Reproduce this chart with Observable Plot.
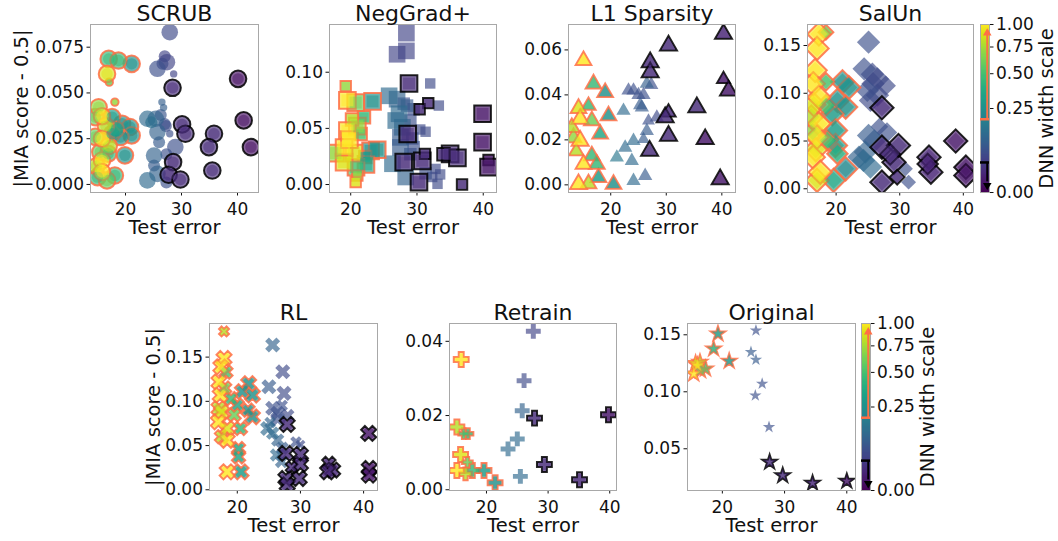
<!DOCTYPE html>
<html>
<head>
<meta charset="utf-8">
<script src="https://cdn.jsdelivr.net/npm/d3@7"></script>
<script src="https://cdn.jsdelivr.net/npm/@observablehq/plot@0.6"></script>
<style>
  html, body { margin: 0; padding: 0; background: #fff; }
  #chart { position: relative; width: 1058px; height: 541px; overflow: hidden; font-family: "DejaVu Sans", sans-serif; }
  #chart svg text { font-family: "DejaVu Sans", sans-serif; }
  .cell { position: absolute; }
</style>
</head>
<body>
<div id="chart"></div>
<script>
// Each point: [test error, |MIA score - 0.5|, DNN width scale, model size group (1 = small ... 3 = large)]
const scrub = [
  [28.4,0.0528,0.015,3],[30.1,0.0328,0.015,3],[30.7,0.0277,0.015,3],[35.8,0.0277,0.015,3],[34.9,0.0204,0.015,3],
  [35.5,0.0076,0.015,3],[28.5,0.0122,0.015,3],[27.7,0.0053,0.015,3],[29.8,0.0027,0.015,3],
  [40.1,0.0577,0.002,3],[41.1,0.0350,0.002,3],[42.4,0.0204,0.002,3],
  [27.9,0.0832,0.05,3],[27.0,0.0700,0.04,2],[27.4,0.0668,0.04,3],[25.7,0.0632,0.06,3],[28.6,0.0604,0.04,1],
  [26.6,0.0660,0.05,2],[26.5,0.0450,0.09,1],[26.8,0.0420,0.09,1],[23.9,0.0359,0.12,3],[25.4,0.0359,0.10,3],
  [26.3,0.0380,0.07,2],[25.7,0.0286,0.10,3],[27.0,0.0330,0.06,2],[27.9,0.0277,0.06,1],[28.9,0.0204,0.06,3],
  [25.1,0.0158,0.10,3],[27.3,0.0165,0.06,2],[23.9,0.0022,0.12,3],[25.7,0.0058,0.10,3],[25.1,0.0104,0.08,2],
  [27.3,0.0010,0.06,2],[27.2,0.0320,0.05,2],[24.6,0.0340,0.14,2],[26.0,0.0230,0.08,2],
  [17.0,0.0686,0.45,3],[18.75,0.0677,0.45,3],[21.1,0.0659,0.25,3],[16.7,0.0604,0.9,3],[17.1,0.0559,0.6,1],
  [18.1,0.0450,0.7,1],[15.2,0.0422,0.7,3],[15.8,0.0373,1.0,3],[17.6,0.0368,0.3,3],[19.4,0.0332,0.25,3],
  [20.8,0.0314,0.25,3],[21.1,0.0268,0.25,3],[19.1,0.0259,0.25,3],[15.8,0.0250,1.0,3],[14.6,0.0260,0.6,3],
  [15.5,0.0177,0.6,3],[16.9,0.0168,0.45,3],[15.8,0.0131,1.0,3],[19.9,0.0159,0.25,3],[15.8,0.0068,1.0,3],
  [18.1,0.0049,0.45,3],[16.7,0.0022,0.6,3],[15.0,0.0040,0.45,3],[17.6,0.0277,0.3,3],[14.6,0.0368,0.6,3],
  [16.5,0.0320,0.8,3],[18.3,0.0300,0.35,3],[17.0,0.0210,0.8,3],[14.8,0.0100,0.8,3]
];
const negGrad = [
  [28.8,0.090,0.015,3],[31.7,0.0725,0.015,1.5],[30.4,0.067,0.015,1.5],[28.6,0.045,0.015,3],[39.9,0.063,0.003,3],
  [39.9,0.0377,0.003,3],[40.8,0.0219,0.003,1.5],[40.8,0.0155,0.003,3],[35.0,0.0273,0.015,3],[28.0,0.0199,0.015,3],
  [30.8,0.0211,0.015,3],[31.2,0.0273,0.015,1.5],[30.3,0.0021,0.015,3],[36.8,0.0,0.015,1.5],[36.1,0.0238,0.015,3],
  [34.0,0.027,0.015,2],
  [28.4,0.1348,0.04,3],[28.4,0.119,0.04,3],[27.0,0.116,0.04,3],[32.0,0.090,0.05,1.5],[25.8,0.079,0.12,3],
  [27.0,0.076,0.10,3],[28.0,0.072,0.06,2],[29.5,0.067,0.06,2],[27.3,0.063,0.12,3],[26.8,0.057,0.12,3],
  [27.8,0.051,0.10,3],[29.0,0.057,0.06,2],[30.5,0.049,0.05,1.5],[31.3,0.047,0.05,1.5],[27.5,0.042,0.08,3],
  [29.3,0.041,0.06,2],[27.5,0.033,0.08,3],[26.3,0.0185,0.12,3],[28.3,0.0067,0.10,3],[32.3,0.0067,0.05,1.5],
  [33.1,0.0006,0.05,1.5],[33.5,0.009,0.05,1.5],[32.8,0.0139,0.05,1.5],[31.3,0.010,0.06,2],[29.5,0.0333,0.06,2],
  [28.5,0.0703,0.08,2],[33.3,0.0703,0.05,1.5],[29.0,0.027,0.06,2],
  [19.25,0.0876,0.7,1.5],[19.5,0.075,1.0,3],[20.75,0.073,0.6,3],[23.3,0.074,0.25,3],[22.0,0.060,0.45,2],
  [19.5,0.048,1.0,3],[21.0,0.052,0.7,3],[19.0,0.033,1.0,3],[17.7,0.028,0.7,3],[20.5,0.028,0.9,3],
  [23.0,0.030,0.25,3],[24.0,0.031,0.25,3],[22.2,0.0246,0.3,2],[22.3,0.018,0.35,3],[20.8,0.0154,0.5,3],
  [21.0,0.008,0.7,1.5],[20.75,0.0021,0.9,1.5],[19.8,0.040,1.0,3],[20.2,0.058,0.8,2],[21.5,0.045,0.5,2],
  [19.0,0.020,0.9,3]
];
const l1Sparsity = [
  [40.3,0.0671,0.01,3],[30.4,0.0619,0.015,3],[27.1,0.0545,0.015,3],[27.1,0.050,0.015,3],[30.4,0.0322,0.015,2],
  [29.8,0.030,0.015,3],[30.4,0.0218,0.015,3],[27.0,0.0151,0.015,3],[35.5,0.0345,0.015,3],[37.0,0.0203,0.004,3],
  [40.3,0.047,0.004,1.5],[41.2,0.0419,0.004,3],[39.7,0.0025,0.004,3],
  [26.5,0.045,0.09,2],[23.2,0.042,0.06,2],[24.1,0.042,0.06,2],[25.0,0.040,0.06,2],[25.9,0.040,0.06,2],
  [22.3,0.033,0.12,2],[25.6,0.0345,0.08,2],[26.8,0.0285,0.06,1.5],[28.3,0.030,0.05,2],[26.5,0.024,0.08,2],
  [24.1,0.0196,0.12,2],[22.6,0.0166,0.12,2],[23.8,0.0107,0.12,2],[24.1,0.0018,0.12,2],[26.2,0.004,0.08,2],
  [21.1,0.0122,0.16,2],[25.9,0.0203,0.08,1.5],[27.3,0.0445,0.06,2],[25.3,0.0355,0.08,2],
  [15.1,0.0553,1.0,2.5],[16.9,0.0449,0.45,2.5],[19.0,0.0411,0.25,2.5],[16.0,0.0352,0.45,2],[14.2,0.034,0.9,2.5],
  [19.6,0.0307,0.25,2.5],[14.5,0.0293,1.0,3],[16.6,0.0285,0.6,2.5],[13.0,0.0255,0.8,2.5],[18.1,0.0226,0.35,2.5],
  [14.5,0.0196,1.0,3],[16.6,0.0129,0.45,2.5],[17.5,0.0092,0.45,2.5],[15.1,0.0092,1.0,2.5],[17.8,0.0033,0.3,2.5],
  [20.5,0.0003,0.25,2.5],[14.2,0.0003,1.0,3],[16.0,0.0005,0.8,2.5],[13.3,0.021,0.7,2.5],[13.8,0.0150,0.8,2]
];
const salUn = [
  [27.2,0.0848,0.015,3],[27.2,0.0436,0.015,3],[29.8,0.0453,0.015,3],[29.1,0.0277,0.015,3],[27.2,0.0069,0.015,3],
  [29.6,0.0122,0.015,1.5],[34.6,0.0331,0.01,3],[34.9,0.0174,0.01,3],[38.8,0.050,0.004,3],[40.4,0.0226,0.003,3],
  [40.4,0.0139,0.003,3],[34.4,0.026,0.01,2.5],[28.5,0.036,0.015,2.5],
  [25.1,0.1535,0.06,3],[24.4,0.1256,0.06,3],[25.7,0.120,0.05,3],[26.5,0.115,0.05,3],[27.8,0.108,0.05,2.5],
  [24.9,0.103,0.06,3],[25.4,0.0925,0.05,3],[26.5,0.098,0.05,3],[28.0,0.059,0.06,2.5],[25.1,0.0558,0.08,3],
  [26.0,0.050,0.08,3],[24.6,0.0384,0.10,3],[24.3,0.0297,0.12,3],[25.4,0.0227,0.12,3],[23.6,0.0332,0.10,3],
  [30.9,0.0209,0.06,1.5],[31.4,0.0069,0.06,1.5],[26.8,0.065,0.06,2],[25.8,0.110,0.04,3],
  [17.3,0.162,1.0,3],[18.4,0.164,0.6,1.5],[17.0,0.147,1.0,3],[16.7,0.124,1.0,3],[18.4,0.112,0.5,2],
  [16.4,0.110,1.0,3],[17.3,0.096,1.0,3],[16.1,0.0751,0.8,3],[17.3,0.068,1.0,3],[17.0,0.054,1.0,3],
  [16.4,0.0331,1.0,3],[17.5,0.0174,1.0,3],[17.0,0.0088,0.9,3],[19.6,0.0088,0.35,3],[21.5,0.0209,0.22,3],
  [21.0,0.112,0.25,3],[22.0,0.106,0.25,3],[20.2,0.0925,0.25,3],[21.5,0.0855,0.25,3],[19.4,0.0785,0.3,3],
  [19.9,0.0611,0.3,3],[19.9,0.0454,0.3,3],[18.4,0.0873,0.5,2.5],[18.6,0.0506,0.5,2.5],[20.2,0.0366,0.4,2.5],
  [16.5,0.088,0.9,3],[16.8,0.041,0.9,3],[16.3,0.060,0.7,3]
];
const rl = [
  [27.9,0.0739,0.015,3],[27.7,0.0411,0.015,3],[30.0,0.040,0.015,3],[30.0,0.0288,0.015,3],[27.7,0.0128,0.015,3],
  [29.8,0.0128,0.015,3],[27.9,0.0056,0.015,3],[34.5,0.0298,0.012,2.5],[35.1,0.0223,0.012,3],[34.3,0.0204,0.012,3],
  [40.8,0.0637,0.003,3],[40.9,0.0241,0.003,3],[40.9,0.0166,0.003,3],[28.6,0.0255,0.015,2],
  [25.6,0.1636,0.10,3],[27.2,0.1334,0.05,3],[25.0,0.1165,0.08,3],[27.4,0.109,0.05,3],[25.6,0.0921,0.06,3],
  [26.4,0.0866,0.06,3],[27.1,0.0953,0.06,2],[24.8,0.0694,0.12,3],[25.6,0.064,0.12,2.5],[26.4,0.0562,0.10,2.5],
  [27.1,0.047,0.08,2.5],[29.3,0.054,0.06,2],[30.0,0.051,0.05,1.5],[26.2,0.0393,0.12,2.5],[27.0,0.032,0.10,2.5],
  [26.4,0.080,0.06,3],[28.0,0.084,0.05,2.5],[25.2,0.076,0.10,2],
  [17.9,0.179,0.8,1.5],[17.9,0.1485,1.0,3],[17.4,0.139,1.0,3],[18.2,0.133,0.5,2.5],[17.1,0.122,1.0,3],
  [21.8,0.120,0.25,3],[20.8,0.111,0.25,3],[22.4,0.107,0.25,3],[17.3,0.107,1.0,3],[19.0,0.103,0.45,2.5],
  [20.0,0.0955,0.35,2.5],[17.5,0.088,0.9,3],[19.5,0.0847,0.6,2.5],[22.4,0.0825,0.25,3],[17.0,0.0768,1.0,3],
  [18.4,0.0693,0.9,3],[20.5,0.0693,0.45,2.5],[21.7,0.090,0.25,2.5],[18.4,0.056,1.0,3],[20.2,0.0466,0.35,2.5],
  [20.2,0.0372,0.35,2.5],[18.4,0.0203,1.0,3],[20.6,0.0203,0.3,3],[17.1,0.092,0.8,3],[18.0,0.115,0.6,2.5],
  [17.5,0.060,0.8,2.5]
];
const retrain = [
  [27.6,0.0427,0.04,2],[26.1,0.0294,0.05,2],[25.8,0.0213,0.10,2],[25.0,0.0137,0.12,2],[23.5,0.0110,0.12,2],
  [25.5,0.0036,0.12,2],
  [27.8,0.0193,0.015,2],[39.8,0.0202,0.003,2],[29.4,0.0068,0.015,2],[35.1,0.0027,0.012,2],
  [15.9,0.0351,1.0,2],[15.2,0.0169,0.8,2],[16.3,0.0151,0.5,1],[17.0,0.0151,0.45,1],[15.8,0.0095,0.9,2],
  [16.9,0.0074,0.6,1],[15.2,0.0052,1.0,2],[17.7,0.0052,0.45,2],[19.6,0.0052,0.3,2],[16.6,0.0043,0.8,1.5],
  [21.4,0.0019,0.25,2]
];
const original = [
  [25.4,0.1538,0.06,1],[24.6,0.1348,0.08,1],[25.4,0.1281,0.08,1],[26.4,0.107,0.06,1],[25.3,0.0968,0.06,1],
  [27.5,0.069,0.06,1],
  [27.6,0.0383,0.015,3],[29.7,0.0266,0.015,3],[34.5,0.0199,0.012,3],[40.0,0.0216,0.004,3],
  [19.3,0.1509,0.3,3],[18.6,0.1377,0.4,3],[21.1,0.1269,0.28,3],[17.3,0.1202,0.5,3],[16.4,0.126,0.8,3],
  [16.0,0.123,1.0,3],[15.4,0.1158,1.0,3],[16.5,0.1187,0.6,3],[15.7,0.125,0.9,3]
];

// width-scale thresholds that get an outline (marked on the colour bar too)
const outlineHigh = 0.19;
const outlineLow = 0.032;
const xTicks = [20, 30, 40];
const colorTicks = [0, 0.25, 0.5, 0.75, 1];

const FONT = "DejaVu Sans";
const ORANGE = "#ff6f45";
const TICK_FONT = "17px";
const M = {left: 80, top: 35, right: 10, bottom: 50};
const plotStyle = {fontFamily: FONT, fontSize: TICK_FONT, background: "transparent", overflow: "visible", color: "#111", maxWidth: "none"};
const colorScale = {type: "sqrt", scheme: "viridis", domain: [0, 1]};

// filled "X" marker: the plus shape of d3.symbolCross turned by 45 degrees
const symbolX = {
  draw(context, size) {
    const a = Math.sqrt(size / 5) / 2, c = Math.SQRT1_2;
    const pts = [[-3,-1],[-1,-1],[-1,-3],[1,-3],[1,-1],[3,-1],[3,1],[1,1],[1,3],[-1,3],[-1,1],[-3,1]];
    pts.forEach(([px, py], i) => {
      const X = (px - py) * a * c, Y = (px + py) * a * c;
      i ? context.lineTo(X, Y) : context.moveTo(X, Y);
    });
    context.closePath();
  }
};
// downward-pointing arrow head
const triangleDown = {
  draw(context, size) {
    const y = Math.sqrt(size / (Math.sqrt(3) * 3));
    context.moveTo(0, y * 2);
    context.lineTo(-Math.sqrt(3) * y, -y);
    context.lineTo(Math.sqrt(3) * y, -y);
    context.closePath();
  }
};

const root = document.getElementById("chart");
function place(svg, left, top) {
  // tick labels use the same face and size on every panel
  d3.select(svg).selectAll('g[aria-label*="axis"] text')
    .style("font-size", TICK_FONT)
    .style("font-family", FONT);
  const div = document.createElement("div");
  div.className = "cell";
  div.style.left = left + "px";
  div.style.top = top + "px";
  div.appendChild(svg);
  root.appendChild(div);
}

function panel(cfg) {
  const rows = cfg.data.map(([x, y, w, s]) => ({x, y, w, s}));
  // wider networks are drawn last so they sit on top
  const low = rows.filter(d => d.w < outlineLow).sort((a, b) => b.w - a.w);
  const mid = rows.filter(d => d.w >= outlineLow && d.w < outlineHigh).sort((a, b) => a.w - b.w);
  const high = rows.filter(d => d.w >= outlineHigh).sort((a, b) => a.w - b.w);
  const base = {x: "x", y: "y", fill: "w", symbol: cfg.symbol, clip: true, sort: null};
  const outer = (data, stroke) => Plot.dot(data, {...base, r: "s", fillOpacity: 0.66, stroke, strokeWidth: 2, strokeOpacity: 0.85});
  const inner = data => Plot.dot(data, {...base, r: d => d.s * 0.62, fillOpacity: 0.5, stroke: "none"});
  const marks = [
    outer(mid, "none"),
    outer(low, "black"), inner(low),
    outer(high, ORANGE), inner(high),
    Plot.frame({stroke: "#a8a8a8"}),
    Plot.text([cfg.title], {text: d => d, frameAnchor: "top", textAnchor: "middle", lineAnchor: "middle", dy: -10.5, fontSize: 22, fill: "#111"}),
    Plot.text(["Test error"], {text: d => d, frameAnchor: "bottom", textAnchor: "middle", lineAnchor: "middle", dy: 35.5, fontSize: 19.5, fill: "#111"})
  ];
  if (cfg.yLabelGap) {
    marks.push(Plot.text(["|MIA score - 0.5|"], {text: d => d, frameAnchor: "left", textAnchor: "middle", lineAnchor: "middle", rotate: -90, dx: -cfg.yLabelGap, fontSize: 19.5, fill: "#111"}));
  }
  const svg = Plot.plot({
    width: M.left + cfg.w + M.right,
    height: M.top + cfg.h + M.bottom,
    marginLeft: M.left, marginRight: M.right, marginTop: M.top, marginBottom: M.bottom,
    style: plotStyle,
    x: {domain: cfg.xDomain, ticks: xTicks, tickSize: 3.5, tickPadding: 7, label: null},
    y: {domain: cfg.yDomain, ticks: cfg.yTicks, tickFormat: cfg.yFormat, tickSize: 3.5, tickPadding: 3, label: null},
    color: colorScale,
    r: {type: "linear", domain: [1, 3], range: cfg.rRange},
    marks
  });
  place(svg, cfg.left - M.left, cfg.top - M.top);
}

function colorbar(left, top, h) {
  const n = 160;
  const bands = d3.range(n).map(i => ({y1: (i / n) ** 2, y2: ((i + 1.2) / n) ** 2, v: ((i + 0.5) / n) ** 2}));
  const mL = 5, mR = 85, w = 9;
  const svg = Plot.plot({
    width: mL + w + mR, height: M.top + h + M.bottom,
    marginLeft: mL, marginRight: mR, marginTop: M.top, marginBottom: M.bottom,
    style: plotStyle,
    x: {domain: [0, 1], axis: null},
    y: {type: "sqrt", domain: [0, 1], axis: "right", ticks: colorTicks, tickFormat: ".2f", tickSize: 3.5, tickPadding: 3, label: null},
    color: colorScale,
    marks: [
      Plot.rect(bands, {x1: 0, x2: 1, y1: "y1", y2: "y2", fill: "v", shapeRendering: "crispEdges"}),
      Plot.frame({stroke: "#a8a8a8"}),
      Plot.ruleY([outlineHigh], {x1: 0, x2: 1, stroke: ORANGE, strokeWidth: 2.5}),
      Plot.ruleX([0.75], {y1: outlineHigh, y2: 0.93, stroke: ORANGE, strokeWidth: 2}),
      Plot.dot([0.75], {x: d => d, y: 0.9, symbol: "triangle", r: 3.2, fill: ORANGE}),
      Plot.ruleY([outlineLow], {x1: 0, x2: 1, stroke: "black", strokeWidth: 2.5}),
      Plot.ruleX([0.75], {y1: outlineLow, y2: 0.004, stroke: "black", strokeWidth: 2}),
      Plot.dot([0.75], {x: d => d, y: 0.0018, symbol: triangleDown, r: 3.2, fill: "black"}),
      Plot.text(["DNN width scale"], {text: d => d, frameAnchor: "right", textAnchor: "middle", lineAnchor: "middle", rotate: -90, dx: 57, fontSize: 19.5, fill: "#111"})
    ]
  });
  place(svg, left - mL, top - M.top);
}

panel({title: "SCRUB", data: scrub, symbol: "circle", left: 90, top: 24, w: 168, h: 168,
  xDomain: [13.75, 43.75], yDomain: [-0.0044, 0.0874], yTicks: [0, 0.025, 0.05, 0.075], yFormat: ".3f",
  rRange: [3.7, 8.3], yLabelGap: 69});
panel({title: "NegGrad+", data: negGrad, symbol: "square", left: 329, top: 24, w: 167, h: 168,
  xDomain: [16.8, 42.0], yDomain: [-0.0071, 0.1425], yTicks: [0, 0.05, 0.1], yFormat: ".2f",
  rRange: [4.7, 9.4]});
panel({title: "L1 Sparsity", data: l1Sparsity, symbol: "triangle", left: 568, top: 24, w: 167, h: 168,
  xDomain: [12.4, 42.46], yDomain: [-0.0034, 0.0713], yTicks: [0, 0.02, 0.04, 0.06], yFormat: ".2f",
  rRange: [4.3, 6.3]});
panel({title: "SalUn", data: salUn, symbol: "diamond2", left: 807, top: 24, w: 166, h: 168,
  xDomain: [15.5, 41.6], yDomain: [-0.0039, 0.172], yTicks: [0, 0.05, 0.1, 0.15], yFormat: ".2f",
  rRange: [5.4, 10.5]});
colorbar(980, 24, 168);

panel({title: "RL", data: rl, symbol: symbolX, left: 209, top: 323, w: 168, h: 167,
  xDomain: [15.6, 42.2], yDomain: [-0.0008, 0.188], yTicks: [0, 0.05, 0.1, 0.15], yFormat: ".2f",
  rRange: [3.7, 6.7], yLabelGap: 56});
panel({title: "Retrain", data: retrain, symbol: "cross", left: 449, top: 323, w: 167, h: 167,
  xDomain: [14.0, 41.1], yDomain: [-0.0002, 0.0448], yTicks: [0, 0.02, 0.04], yFormat: ".2f",
  rRange: [4.5, 8]});
panel({title: "Original", data: original, symbol: "star", left: 687, top: 323, w: 168, h: 167,
  xDomain: [14.4, 41.4], yDomain: [0.0134, 0.1599], yTicks: [0.05, 0.1, 0.15], yFormat: ".2f",
  rRange: [3.9, 4.5]});
colorbar(861, 323, 167);
</script>
</body>
</html>
